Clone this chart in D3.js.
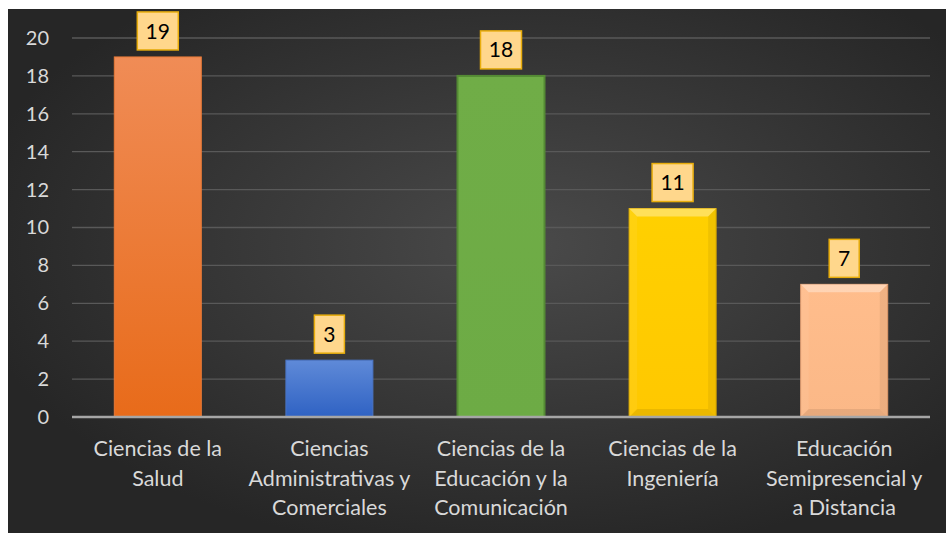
<!DOCTYPE html>
<html><head><meta charset="utf-8">
<script src="https://cdn.jsdelivr.net/npm/d3@7/dist/d3.min.js"></script>
<style>html,body{margin:0;padding:0;background:#fff;}svg{display:block;}</style>
</head><body>
<script>
const categories = [
  ["Ciencias de la", "Salud"],
  ["Ciencias", "Administrativas y", "Comerciales"],
  ["Ciencias de la", "Educación y la", "Comunicación"],
  ["Ciencias de la", "Ingeniería"],
  ["Educación", "Semipresencial y", "a Distancia"]
];
const values = [19, 3, 18, 11, 7];
const yTicks = [0, 2, 4, 6, 8, 10, 12, 14, 16, 18, 20];

const W = 948, H = 533;
const font = "Lato, 'Open Sans', sans-serif";
const svg = d3.select("body").append("svg").attr("width", W).attr("height", H);
const defs = svg.append("defs");

const bg = defs.append("radialGradient").attr("id","bg").attr("cx","55%").attr("cy","45%").attr("r","60%");
bg.append("stop").attr("offset","0%").attr("stop-color","#4a4a4a");
bg.append("stop").attr("offset","100%").attr("stop-color","#262626");

function vgrad(id, top, bot){
  const g = defs.append("linearGradient").attr("id",id).attr("x1",0).attr("y1",0).attr("x2",0).attr("y2",1);
  g.append("stop").attr("offset","0%").attr("stop-color",top);
  g.append("stop").attr("offset","100%").attr("stop-color",bot);
}
vgrad("g0","#f08c56","#e86b1a");
vgrad("g1","#5f8ad8","#2f62c3");
vgrad("g2","#70ad47","#6dab45");
vgrad("g3","#ffd000","#ffc800");
vgrad("g4","#ffbd8c","#fbb887");
const fills = ["url(#g0)","url(#g1)","url(#g2)","url(#g3)","url(#g4)"];
const strokes = ["#e87a38","#4a74c4","#548a34","#e0ae00","#e8a070"];
const bevel = [false,false,false,true,true];

svg.append("rect").attr("x",8).attr("y",9).attr("width",W-10).attr("height",H-9).attr("fill","url(#bg)");

const x = d3.scaleBand().domain(d3.range(values.length)).range([72, 930]).paddingInner(0.493).paddingOuter(0.2465);
const y = d3.scaleLinear().domain([0, 20]).range([417, 38]);

// gridlines
svg.append("g").selectAll("line").data(yTicks.filter(d=>d>0)).join("line")
  .attr("x1",72).attr("x2",930).attr("y1",d=>y(d)).attr("y2",d=>y(d))
  .attr("stroke","#595959").attr("stroke-width",1.3);

// y axis labels
const yAxis = d3.axisLeft(y).tickValues(yTicks).tickSize(0).tickPadding(0);
const ya = svg.append("g").attr("transform","translate(49,0)").call(yAxis);
ya.select(".domain").remove();
ya.selectAll("text").attr("fill","#d9d9d9").style("font-family",font).style("font-size","20px");

// bars
const bars = svg.append("g").selectAll("g").data(values).join("g");
bars.append("rect")
  .attr("x",(d,i)=>x(i)).attr("y",d=>y(d)).attr("width",x.bandwidth()).attr("height",d=>y(0)-y(d))
  .attr("fill",(d,i)=>fills[i]).attr("stroke",(d,i)=>strokes[i]).attr("stroke-width",(d,i)=>i===2?2:1);

// bevel highlights
bars.filter((d,i)=>bevel[i]).each(function(d){
  const i = values.indexOf(d);
  const g = d3.select(this);
  const x0 = x(i), x1 = x(i)+x.bandwidth(), y0 = y(d), y1 = y(0), b = 8;
  g.append("path").attr("d",`M${x0},${y0}L${x1},${y0}L${x1-b},${y0+b}L${x0+b},${y0+b}Z`)
    .attr("fill","#ffffff").attr("opacity",0.35);
  g.append("path").attr("d",`M${x0},${y1}L${x1},${y1}L${x1-b},${y1-b}L${x0+b},${y1-b}Z`)
    .attr("fill","#000").attr("opacity",0.08);
  g.append("path").attr("d",`M${x1},${y0}L${x1},${y1}L${x1-b},${y1-b}L${x1-b},${y0+b}Z`)
    .attr("fill","#000").attr("opacity",0.06);
  g.append("path").attr("d",`M${x0},${y0}L${x0},${y1}L${x0+b},${y1-b}L${x0+b},${y0+b}Z`)
    .attr("fill","#fff").attr("opacity",0.06);
});

// axis line
svg.append("line").attr("x1",72).attr("x2",930).attr("y1",y(0)).attr("y2",y(0))
  .attr("stroke","#a6a6a6").attr("stroke-width",2.5);

// data labels
const labels = svg.append("g").selectAll("g").data(values).join("g")
  .attr("transform",(d,i)=>`translate(${x(i)+x.bandwidth()/2},${y(d)-26})`);
labels.append("rect")
  .attr("x",d=>-(String(d).length===1?15:20.5)).attr("y",-19)
  .attr("width",d=>String(d).length===1?30:41).attr("height",38)
  .attr("fill","#ffd78c").attr("stroke","#e8ad0c").attr("stroke-width",1.5);
labels.append("text").text(d=>d).attr("text-anchor","middle").attr("dy","0.36em")
  .attr("fill","#000").style("font-family",font).style("font-size","21px");

// category labels
const cl = svg.append("g").selectAll("text").data(categories).join("text")
  .attr("text-anchor","middle").attr("fill","#d9d9d9")
  .style("font-family",font).style("font-size","21.5px");
cl.selectAll("tspan").data((d,i)=>d.map(t=>({t,i}))).join("tspan")
  .attr("x",d=>x(d.i)+x.bandwidth()/2)
  .attr("y",(d,j)=>456+j*29.5)
  .text(d=>d.t);
</script>
</body></html>
